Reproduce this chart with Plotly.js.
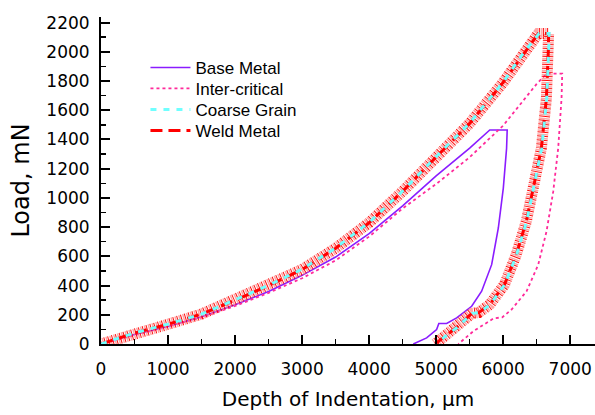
<!DOCTYPE html>
<html><head><meta charset="utf-8">
<script src="https://cdn.plot.ly/plotly-3.0.1.min.js"></script>
<style>html,body{margin:0;padding:0;background:#fff}#chart{width:595px;height:415px}</style>
</head><body><div id="chart"></div>
<script>
// Base Metal: loading, hold, unloading
const baseX = [0, 500, 1000, 1500, 2000, 2500, 3000, 3500, 4000, 4500, 5000, 5500, 5800, 6060, 6051, 6002, 5928, 5828, 5679, 5530, 5306, 5157, 5040, 5007, 4858, 4659];
const baseY = [0, 65, 120, 186, 268, 360, 470, 595, 755, 945, 1150, 1340, 1465, 1465, 1340, 1067, 794, 543, 361, 258, 179, 140, 140, 99, 42, 0];

// Inter-critical
const interX = [0, 500, 1000, 1500, 2000, 2500, 3000, 3500, 4000, 4500, 5000, 5500, 6000, 6500, 6647, 6881, 6871, 6821, 6747, 6647, 6523, 6349, 6125, 5985, 5860, 5703, 5554, 5330];
const interY = [0, 60, 115, 180, 260, 350, 450, 572, 735, 928, 1095, 1278, 1495, 1780, 1850, 1850, 1682, 1340, 1044, 771, 543, 361, 236, 182, 176, 133, 87, 0];

// Coarse Grain
const coarseX = [0, 500, 1000, 1500, 2000, 2500, 3000, 3500, 4000, 4500, 5000, 5500, 6000, 6300, 6535, 6685, 6680, 6650, 6575, 6475, 6350, 6200, 6025, 5805, 5640, 5540, 5306, 5107, 5000];
const coarseY = [0, 76, 136, 205, 302, 402, 512, 657, 832, 1047, 1282, 1512, 1792, 1990, 2125, 2125, 2024, 1682, 1340, 1112, 839, 611, 407, 270, 215, 210, 111, 42, 0];

// Weld Metal
const weldX = [0, 500, 1000, 1500, 2000, 2500, 3000, 3500, 4000, 4500, 5000, 5500, 6000, 6300, 6525, 6678, 6675, 6645, 6570, 6470, 6345, 6195, 6020, 5800, 5635, 5535, 5300, 5100, 4985];
const weldY = [0, 75, 135, 205, 300, 400, 510, 655, 830, 1045, 1280, 1510, 1790, 1985, 2125, 2125, 2024, 1682, 1340, 1112, 839, 611, 407, 270, 215, 210, 111, 42, 0];

const xTickVals = [0, 1000, 2000, 3000, 4000, 5000, 6000, 7000];
const xTickText = ['0', '1000', '2000', '3000', '4000', '5000', '6000', '7000'];
const yTickVals = [0, 200, 400, 600, 800, 1000, 1200, 1400, 1600, 1800, 2000, 2200];
const yTickText = ['0', '200', '400', '600', '800', '1000', '1200', '1400', '1600', '1800', '2000', '2200'];

const traces = [
  {x: baseX, y: baseY, name: 'Base Metal', mode: 'lines', legend: 'legend',
   line: {color: '#8a1cff', width: 1.6}},
  {x: interX, y: interY, name: 'Inter-critical', mode: 'lines', legend: 'legend2',
   line: {color: '#ff2a9a', width: 1.8, dash: 'dot'}},
  {x: weldX, y: weldY, mode: 'lines', showlegend: false, hoverinfo: 'skip',
   line: {color: 'rgba(255,135,135,0.75)', width: 11, dash: '0px,2px,1.5px,0.5px'}},
  {x: weldX, y: weldY, mode: 'lines', showlegend: false, hoverinfo: 'skip',
   line: {color: 'rgba(255,0,0,0.95)', width: 11, dash: '1px,3px'}},
  {x: weldX, y: weldY, name: 'Weld Metal', mode: 'lines', legend: 'legend4',
   line: {color: '#ff0000', width: 3, dash: '12px,6px'}},
  {x: coarseX, y: coarseY, name: 'Coarse Grain', mode: 'lines', legend: 'legend3',
   line: {color: '#70ffff', width: 3, dash: '6px,7px'}}
];

const tickFont = {family: 'DejaVu Sans', size: 17, color: '#000'};
const legFont = {family: 'Liberation Sans, Arial', size: 17, color: '#000'};
function leg(yc) {
  return {x: 0.09, y: (344.5 - yc) / 327.5, xanchor: 'left', yanchor: 'middle',
          bgcolor: 'rgba(0,0,0,0)', font: legFont, itemwidth: 40};
}

const layout = {
  width: 595, height: 415,
  margin: {l: 101, r: 0, t: 17, b: 70.5},
  paper_bgcolor: '#fff', plot_bgcolor: '#fff',
  showlegend: true,
  legend: leg(68), legend2: leg(89), legend3: leg(110), legend4: leg(131),
  xaxis: {
    range: [0, 7370], tickmode: 'array', tickvals: xTickVals, ticktext: xTickText,
    ticks: 'inside', ticklen: 9, tickwidth: 2, tickcolor: '#000',
    showline: true, linewidth: 2, linecolor: '#000', showgrid: false, zeroline: false,
    minor: {tickmode: 'linear', tick0: 0, dtick: 500, ticks: 'inside', ticklen: 5, tickwidth: 1.5, tickcolor: '#000', showgrid: false},
    tickfont: tickFont, ticklabelstandoff: 9,
    title: {text: 'Depth of Indentation, µm', font: {family: 'DejaVu Sans', size: 20, color: '#000'}, standoff: 14}
  },
  yaxis: {
    range: [0, 2238], tickmode: 'array', tickvals: yTickVals, ticktext: yTickText,
    ticks: 'inside', ticklen: 9, tickwidth: 2, tickcolor: '#000',
    showline: true, linewidth: 2, linecolor: '#000', showgrid: false, zeroline: false,
    minor: {tickmode: 'linear', tick0: 0, dtick: 100, ticks: 'inside', ticklen: 5, tickwidth: 1.5, tickcolor: '#000', showgrid: false},
    tickfont: tickFont, ticklabelstandoff: 6,
    title: {text: 'Load, mN', font: {family: 'DejaVu Sans', size: 24, color: '#000'}, standoff: 10}
  }
};

Plotly.newPlot('chart', traces, layout, {staticPlot: true, displayModeBar: false});
</script>
</body></html>
